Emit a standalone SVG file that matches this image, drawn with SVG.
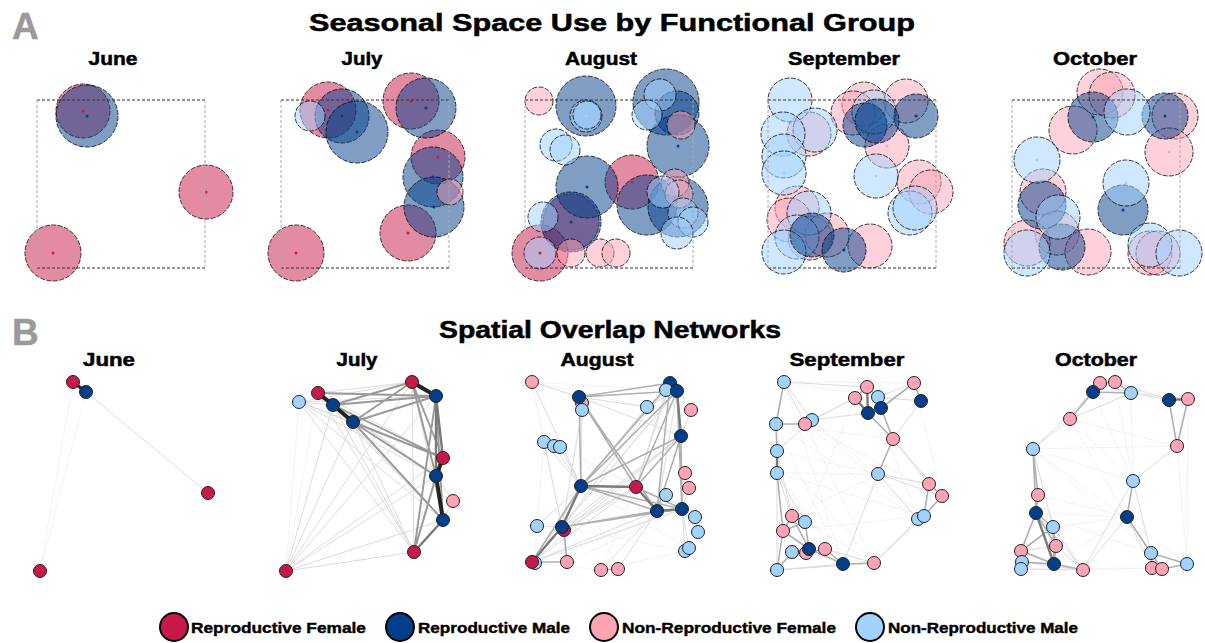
<svg xmlns="http://www.w3.org/2000/svg" width="1205" height="643" viewBox="0 0 1205 643">
<style>
text{font-family:"Liberation Sans",Arial,sans-serif;font-weight:bold;fill:#000;stroke:#000;stroke-width:.5}
.tag{font-size:37px;fill:#9a9a9a;stroke:#9a9a9a}
.ttl{font-size:23px;text-anchor:middle}
.mo{font-size:18px;text-anchor:middle}
.lg{font-size:15px;stroke-width:.4}
.rf{fill:#C9184A}.rm{fill:#023E8A}.nf{fill:#FFA3B5}.nm{fill:#A2D2FF}
.A circle.c{fill-opacity:.5;stroke:#000;stroke-opacity:.85;stroke-width:.9;stroke-dasharray:5 1.5}
.A circle.d{stroke:none}
.frame line{stroke-width:1;stroke-dasharray:3 2}
.fh{stroke:#333}.fv{stroke:#aaa}
.B circle{stroke:#222;stroke-width:1}
.e0{stroke:#f0f0f0;stroke-width:.8}
.e1{stroke:#dcdcdc;stroke-width:1}
.e2{stroke:#b0b0b0;stroke-width:1.6}
.e3{stroke:#7a7a7a;stroke-width:2.4}
.e4{stroke:#222;stroke-width:4}
.jl .e2{stroke:#999;stroke-width:1.9}
.leg circle{stroke:#000;stroke-width:2}
</style>

<text class="tag" x="12" y="39">A</text>
<text class="tag" x="12" y="345">B</text>
<text class="ttl" x="612" y="31" textLength="606" lengthAdjust="spacingAndGlyphs">Seasonal Space Use by Functional Group</text>
<text class="ttl" x="610" y="338" textLength="342" lengthAdjust="spacingAndGlyphs">Spatial Overlap Networks</text>

<!-- Panel A titles -->
<text class="mo" x="113" y="65" textLength="49" lengthAdjust="spacingAndGlyphs">June</text>
<text class="mo" x="362" y="65" textLength="41" lengthAdjust="spacingAndGlyphs">July</text>
<text class="mo" x="601" y="65" textLength="72" lengthAdjust="spacingAndGlyphs">August</text>
<text class="mo" x="844" y="65" textLength="112" lengthAdjust="spacingAndGlyphs">September</text>
<text class="mo" x="1095" y="65" textLength="84" lengthAdjust="spacingAndGlyphs">October</text>

<!-- Panel B titles -->
<text class="mo" x="109" y="366" textLength="52" lengthAdjust="spacingAndGlyphs">June</text>
<text class="mo" x="357" y="366" textLength="41" lengthAdjust="spacingAndGlyphs">July</text>
<text class="mo" x="597" y="366" textLength="73" lengthAdjust="spacingAndGlyphs">August</text>
<text class="mo" x="847" y="366" textLength="115" lengthAdjust="spacingAndGlyphs">September</text>
<text class="mo" x="1096" y="366" textLength="82" lengthAdjust="spacingAndGlyphs">October</text>

<!-- ===== Panel A: space use ===== -->
<g id="A-june" class="A">
<circle class="c rf" cx="83" cy="111" r="27"/>
<circle class="c rm" cx="87" cy="116" r="31"/>
<circle class="c rf" cx="206" cy="192" r="27"/>
<circle class="c rf" cx="53" cy="253" r="28"/>
<circle class="d rf" cx="83" cy="111" r="1.5"/><circle class="d rm" cx="87" cy="116" r="1.5"/>
<circle class="d rf" cx="206" cy="192" r="1.5"/><circle class="d rf" cx="53" cy="253" r="1.5"/>
</g>
<g id="A-july" class="A">
<circle class="c rf" cx="328" cy="110" r="28"/>
<circle class="c rf" cx="411" cy="101" r="28"/>
<circle class="c rf" cx="438" cy="157" r="27"/>
<circle class="c rf" cx="408" cy="233" r="28"/>
<circle class="c rf" cx="296" cy="253" r="28"/>
<circle class="c rm" cx="342" cy="116" r="27"/>
<circle class="c rm" cx="357" cy="132" r="31"/>
<circle class="c rm" cx="426" cy="108" r="30"/>
<circle class="c rm" cx="433" cy="177" r="30"/>
<circle class="c rm" cx="434" cy="207" r="30"/>
<circle class="c nf" cx="450" cy="192" r="13"/>
<circle class="c nm" cx="310" cy="116" r="15"/>
<circle class="d rf" cx="328" cy="110" r="1.5"/><circle class="d rf" cx="411" cy="101" r="1.5"/>
<circle class="d rf" cx="438" cy="157" r="1.5"/><circle class="d rf" cx="408" cy="233" r="1.5"/>
<circle class="d rf" cx="296" cy="253" r="1.5"/><circle class="d rm" cx="342" cy="116" r="1.5"/>
<circle class="d rm" cx="357" cy="132" r="1.5"/><circle class="d rm" cx="426" cy="108" r="1.5"/>
<circle class="d rm" cx="433" cy="177" r="1.5"/><circle class="d rm" cx="434" cy="207" r="1.5"/>
</g>
<g id="A-august" class="A">
<circle class="c rf" cx="632" cy="182" r="27"/>
<circle class="c rf" cx="571" cy="222" r="28"/>
<circle class="c rf" cx="540" cy="253" r="28"/>
<circle class="c rm" cx="586" cy="106" r="30"/>
<circle class="c rm" cx="666" cy="102" r="33"/>
<circle class="c rm" cx="677" cy="113" r="22"/>
<circle class="c rm" cx="678" cy="146" r="31"/>
<circle class="c rm" cx="587" cy="187" r="31"/>
<circle class="c rm" cx="647" cy="205" r="30"/>
<circle class="c rm" cx="678" cy="207" r="30"/>
<circle class="c rm" cx="571" cy="222" r="30"/>
<circle class="c nf" cx="539" cy="101" r="14"/>
<circle class="c nf" cx="681" cy="125" r="14"/>
<circle class="c nf" cx="675" cy="183" r="14"/>
<circle class="c nf" cx="679" cy="194" r="14"/>
<circle class="c nf" cx="571" cy="253" r="14"/>
<circle class="c nf" cx="600" cy="253" r="14"/>
<circle class="c nf" cx="616" cy="253" r="14"/>
<circle class="c nm" cx="586" cy="116" r="16"/>
<circle class="c nm" cx="587" cy="115" r="14"/>
<circle class="c nm" cx="660" cy="95" r="16"/>
<circle class="c nm" cx="647" cy="115" r="15"/>
<circle class="c nm" cx="556" cy="145" r="16"/>
<circle class="c nm" cx="565" cy="150" r="15"/>
<circle class="c nm" cx="663" cy="192" r="16"/>
<circle class="c nm" cx="683" cy="213" r="15"/>
<circle class="c nm" cx="693" cy="222" r="15"/>
<circle class="c nm" cx="677" cy="233" r="16"/>
<circle class="c nm" cx="543" cy="217" r="15"/>
<circle class="c nm" cx="540" cy="253" r="16"/>
<circle class="d rf" cx="632" cy="182" r="1.5"/><circle class="d rm" cx="587" cy="187" r="1.5"/>
<circle class="d rm" cx="678" cy="146" r="1.5"/><circle class="d rm" cx="571" cy="222" r="1.5"/>
<circle class="d rf" cx="540" cy="253" r="1.5"/><circle class="d nm" cx="586" cy="116" r="1.5"/>
</g>
<g id="A-september" class="A">
<circle class="c nf" cx="864" cy="104" r="22"/>
<circle class="c nf" cx="853" cy="113" r="22"/>
<circle class="c nf" cx="906" cy="101" r="22"/>
<circle class="c nf" cx="809" cy="134" r="22"/>
<circle class="c nf" cx="887" cy="146" r="22"/>
<circle class="c nf" cx="919" cy="182" r="22"/>
<circle class="c nf" cx="931" cy="192" r="22"/>
<circle class="c nf" cx="797" cy="208" r="22"/>
<circle class="c nf" cx="789" cy="220" r="22"/>
<circle class="c nf" cx="810" cy="238" r="22"/>
<circle class="c nf" cx="827" cy="235" r="22"/>
<circle class="c nf" cx="870" cy="246" r="22"/>
<circle class="c nm" cx="790" cy="100" r="22"/>
<circle class="c nm" cx="874" cy="112" r="22"/>
<circle class="c nm" cx="815" cy="130" r="22"/>
<circle class="c nm" cx="783" cy="134" r="22"/>
<circle class="c nm" cx="784" cy="156" r="22"/>
<circle class="c nm" cx="784" cy="173" r="22"/>
<circle class="c nm" cx="876" cy="176" r="22"/>
<circle class="c nm" cx="910" cy="213" r="22"/>
<circle class="c nm" cx="915" cy="208" r="22"/>
<circle class="c nm" cx="809" cy="213" r="22"/>
<circle class="c nm" cx="797" cy="237" r="22"/>
<circle class="c nm" cx="784" cy="252" r="22"/>
<circle class="c rm" cx="916" cy="116" r="22"/>
<circle class="c rm" cx="865" cy="125" r="22"/>
<circle class="c rm" cx="877" cy="121" r="22"/>
<circle class="c rm" cx="812" cy="235" r="22"/>
<circle class="c rm" cx="844" cy="250" r="22"/>
<circle class="d rm" cx="916" cy="116" r="1.5"/><circle class="d rm" cx="844" cy="250" r="1.5"/>
<circle class="d nf" cx="887" cy="146" r="1.5"/><circle class="d nm" cx="876" cy="176" r="1.5"/>
<circle class="d nm" cx="784" cy="173" r="1.5"/><circle class="d nm" cx="784" cy="156" r="1.5"/>
</g>
<g id="A-october" class="A">
<circle class="c nf" cx="1100" cy="92" r="23"/>
<circle class="c nf" cx="1112" cy="95" r="23"/>
<circle class="c nf" cx="1175" cy="116" r="23"/>
<circle class="c nf" cx="1073" cy="130" r="24"/>
<circle class="c nf" cx="1169" cy="152" r="24"/>
<circle class="c nf" cx="1043" cy="192" r="23"/>
<circle class="c nf" cx="1057" cy="233" r="22"/>
<circle class="c nf" cx="1027" cy="243" r="23"/>
<circle class="c nf" cx="1088" cy="252" r="23"/>
<circle class="c nf" cx="1150" cy="253" r="22"/>
<circle class="c nf" cx="1158" cy="253" r="22"/>
<circle class="c rm" cx="1093" cy="117" r="25"/>
<circle class="c rm" cx="1165" cy="116" r="23"/>
<circle class="c rm" cx="1042" cy="205" r="24"/>
<circle class="c rm" cx="1123" cy="210" r="25"/>
<circle class="c rm" cx="1062" cy="247" r="23"/>
<circle class="c nm" cx="1127" cy="112" r="23"/>
<circle class="c nm" cx="1037" cy="160" r="23"/>
<circle class="c nm" cx="1126" cy="183" r="23"/>
<circle class="c nm" cx="1058" cy="217" r="22"/>
<circle class="c nm" cx="1027" cy="253" r="23"/>
<circle class="c nm" cx="1150" cy="245" r="22"/>
<circle class="c nm" cx="1179" cy="253" r="23"/>
<circle class="d rm" cx="1165" cy="116" r="1.5"/><circle class="d rm" cx="1123" cy="210" r="1.5"/>
<circle class="d nf" cx="1169" cy="152" r="1.5"/><circle class="d nm" cx="1126" cy="183" r="1.5"/>
<circle class="d nm" cx="1037" cy="160" r="1.5"/><circle class="d rm" cx="1093" cy="117" r="1.5"/>
</g>

<g id="frames" class="frame">
<line class="fh" x1="37" y1="100" x2="205" y2="100"/><line class="fh" x1="37" y1="268" x2="205" y2="268"/>
<line class="fv" x1="37" y1="100" x2="37" y2="268"/><line class="fv" x1="205" y1="100" x2="205" y2="268"/>
<line class="fh" x1="281" y1="100" x2="449" y2="100"/><line class="fh" x1="281" y1="268" x2="449" y2="268"/>
<line class="fv" x1="281" y1="100" x2="281" y2="268"/><line class="fv" x1="449" y1="100" x2="449" y2="268"/>
<line class="fh" x1="525" y1="100" x2="693" y2="100"/><line class="fh" x1="525" y1="268" x2="693" y2="268"/>
<line class="fv" x1="525" y1="100" x2="525" y2="268"/><line class="fv" x1="693" y1="100" x2="693" y2="268"/>
<line class="fh" x1="768" y1="100" x2="936" y2="100"/><line class="fh" x1="768" y1="268" x2="936" y2="268"/>
<line class="fv" x1="768" y1="100" x2="768" y2="268"/><line class="fv" x1="936" y1="100" x2="936" y2="268"/>
<line class="fh" x1="1012" y1="100" x2="1180" y2="100"/><line class="fh" x1="1012" y1="268" x2="1180" y2="268"/>
<line class="fv" x1="1012" y1="100" x2="1012" y2="268"/><line class="fv" x1="1180" y1="100" x2="1180" y2="268"/>
</g>

<!-- ===== Panel B: connectors ===== -->
<g id="connectors" fill="none" stroke-linecap="round">
<!-- June -->
<g id="c-june">
<path class="e0" d="M73,382L40,571M86,392L40,571"/>
<path class="e1" d="M86,392L208,493"/>
<path class="e4" style="stroke-width:3" d="M73,382L86,392"/>
</g>
<!-- July -->
<g id="c-july" class="jl">
<path class="e0" d="M286,571L299,402M286,571L318,393M299,402L318,393"/>
<path class="e1" d="M299,402L412,382M299,402L436,396M318,393L412,382M286,571L333,405M286,571L353,422M286,571L412,382M286,571L436,396M286,571L443,458M286,571L436,476M286,571L443,520M286,571L414,552M299,402L333,405M299,402L353,422M299,402L443,458M299,402L436,476M299,402L443,520M299,402L414,552M318,393L443,458M318,393L436,476M318,393L443,520M318,393L414,552M333,405L436,476M333,405L443,520M333,405L414,552M353,422L414,552M412,382L443,520M412,382L414,552M443,458L414,552M453,501L436,476M453,501L443,520"/>
<path class="e2" d="M353,422L436,396M353,422L412,382M333,405L436,396M333,405L412,382M353,422L443,458M353,422L436,476M353,422L443,520M436,396L443,520M436,396L414,552M412,382L443,458M412,382L436,476M318,393L436,396M333,405L443,458M436,476L414,552"/>
<path class="e3" d="M443,520L414,552M436,396L436,476M436,396L443,458"/>
<path class="e4" d="M318,393L333,405L353,422M412,382L436,396M443,458L436,476L443,520"/>
</g>
<!-- August -->
<g id="c-august">
<path class="e0" d="M532,382L647,407M532,382L677,391M532,382L544,442M544,442L537,526M537,526L535,563M535,563L601,570M685,551L601,570M647,407L670,383M685,473L689,488M532,382L581,486M544,442L636,487M554,446L657,511M560,447L682,509M537,526L657,511M535,563L682,509M567,562L682,509M601,570L636,487M618,569L581,486M532,382L562,527M685,551L562,527M689,548L581,486M695,517L581,486M698,532L636,487"/>
<path class="e1" d="M532,382L579,397M579,397L647,407M579,397L681,436M647,407L677,391M670,383L636,487M677,391L657,511M647,407L581,486M666,390L581,486M666,390L636,487M691,410L681,436M685,473L682,509M689,488L682,509M666,495L657,511M666,495L682,509M695,517L682,509M698,532L682,509M544,442L581,486M554,446L581,486M560,447L581,486M537,526L562,527M537,526L581,486M564,530L636,487M562,527L636,487M535,563L581,486M532,562L636,487M532,562L657,511M532,562L682,509M685,551L682,509M689,548L682,509M567,562L562,527M601,570L657,511M618,569L657,511M582,410L581,486M582,410L562,527M544,442L562,527M562,527L681,436M562,527L677,391M532,562L681,436M562,527L670,383M564,530L681,436M532,562L677,391M532,382L581,486M579,397L582,410"/>
<path class="e2" d="M579,397L677,391M579,397L581,486M579,397L670,383M677,391L682,509M681,436L682,509M681,436L657,511M681,436L581,486M677,391L581,486M677,391L636,487M670,383L657,511M670,383L581,486M579,397L657,511M579,397L636,487M581,486L657,511M581,486L682,509M562,527L657,511M562,527L682,509M532,562L581,486M601,570L618,569M636,487L682,509M681,436L636,487M532,562L567,562M564,530L567,562"/>
<path class="e3" d="M562,527L532,562M581,486L562,527M581,486L636,487M636,487L657,511M657,511L682,509M677,391L681,436"/>
</g>
<!-- September -->
<g id="c-september">
<path class="e0" d="M776,424L918,519M777,451L878,474M777,473L878,474M784,382L914,383M812,420L878,474M805,424L874,563M777,473L843,564M792,516L878,474M805,522L874,563M777,570L874,563M792,552L874,563M784,382L878,397M776,424L893,439M777,473L924,516M777,451L874,563M812,420L918,519M805,424L924,516M783,531L924,516M776,424L843,564M784,382L843,564M805,424L942,496M867,387L918,519M855,398L805,522M914,383L942,496"/>
<path class="e1" d="M784,382L812,420M784,382L805,424M777,473L792,516M777,473L777,570M878,474L942,496M878,474L929,484M878,474L918,519M924,516L874,563M918,519L874,563M893,439L929,484M914,383L878,397M921,401L878,397M921,401L893,439M784,382L867,387M812,420L855,398M805,424L855,398M777,451L812,420M874,563L825,549M843,564L777,570M874,563L777,570M878,474L843,564M777,451L792,516M777,473L805,522M812,420L868,413M893,439L942,496"/>
<path class="e2" d="M784,382L776,424M776,424L805,424M776,424L777,451M805,424L812,420M878,397L881,408M867,387L855,398M867,387L878,397M914,383L921,401M881,408L893,439M868,413L893,439M893,439L878,474M929,484L942,496M942,496L924,516M918,519L924,516M929,484L924,516M809,549L843,564M843,564L874,563M783,531L809,549M792,516L783,531M792,516L809,549M805,522L809,549M792,552L809,549M809,549L806,553M806,553L825,549M825,549L843,564M777,570L792,552M777,570L783,531M783,531L805,522M792,516L805,522M777,473L783,531M914,383L881,408"/>
<path class="e3" d="M777,451L777,473M867,387L868,413M855,398L868,413"/>
</g>
<!-- October -->
<g id="c-october">
<path class="e0" d="M1070,419L1133,481M1033,449L1133,481M1038,495L1127,517M1036,513L1127,517M1053,527L1127,517M1054,564L1127,517M1021,569L1152,568M1083,570L1152,568M1093,392L1133,481M1070,419L1177,446M1033,449L1177,446M1115,382L1133,481M1131,393L1133,481M1188,399L1187,564M1177,446L1187,564M1038,495L1083,570M1021,551L1083,570M1033,449L1187,564M1070,419L1127,517M1033,449L1151,553M1036,513L1151,553"/>
<path class="e1" d="M1070,419L1033,449M1131,393L1169,400M1177,446L1133,481M1127,517L1083,570M1133,481L1083,570M1033,449L1053,527M1115,382L1169,400M1131,393L1188,399M1070,419L1131,393M1036,513L1083,570M1053,527L1083,570M1056,546L1083,570M1022,562L1083,570M1021,569L1083,570M1127,517L1152,568M1133,481L1151,553M1093,392L1033,449M1100,383L1131,393M1056,546L1021,551"/>
<path class="e2" d="M1093,392L1070,419M1100,383L1093,392M1100,383L1115,382M1115,382L1131,393M1093,392L1131,393M1033,449L1038,495M1038,495L1036,513M1036,513L1053,527M1036,513L1021,551M1053,527L1056,546M1056,546L1054,564M1021,551L1022,562M1022,562L1021,569M1021,551L1054,564M1022,562L1054,564M1133,481L1127,517M1127,517L1151,553M1151,553L1152,568M1151,553L1162,569M1162,569L1187,564M1151,553L1187,564M1169,400L1177,446M1188,399L1177,446M1036,513L1056,546M1053,527L1054,564M1033,449L1036,513M1021,551L1053,527M1083,570L1054,564"/>
<path class="e3" d="M1169,400L1188,399M1152,568L1162,569M1036,513L1054,564"/>
</g>
</g>

<!-- ===== Panel B: nodes ===== -->
<g id="B-june" class="B">
<circle id="jun1" class="rf" cx="73" cy="382" r="6.5"/>
<circle id="jun2" class="rm" cx="86" cy="392" r="6.5"/>
<circle id="jun3" class="rf" cx="208" cy="493" r="6.5"/>
<circle id="jun4" class="rf" cx="40" cy="571" r="6.5"/>
</g>
<g id="B-july" class="B">
<circle class="nm" cx="299" cy="402" r="6.5"/>
<circle class="rf" cx="318" cy="393" r="6.5"/>
<circle class="rm" cx="333" cy="405" r="6.5"/>
<circle class="rm" cx="353" cy="422" r="6.5"/>
<circle class="rf" cx="412" cy="382" r="6.5"/>
<circle class="rm" cx="436" cy="396" r="6.5"/>
<circle class="rf" cx="443" cy="458" r="6.5"/>
<circle class="rm" cx="436" cy="476" r="6.5"/>
<circle class="nf" cx="453" cy="501" r="6.5"/>
<circle class="rm" cx="443" cy="520" r="6.5"/>
<circle class="rf" cx="414" cy="552" r="6.5"/>
<circle class="rf" cx="286" cy="571" r="6.5"/>
</g>
<g id="B-august" class="B">
<circle class="nf" cx="532" cy="382" r="6.5"/>
<circle class="nf" cx="582" cy="403" r="6.5"/>
<circle class="rm" cx="579" cy="397" r="6.5"/>
<circle class="nm" cx="582" cy="410" r="6.5"/>
<circle class="nm" cx="647" cy="407" r="6.5"/>
<circle class="rm" cx="670" cy="383" r="6.5"/>
<circle class="nm" cx="666" cy="390" r="6.5"/>
<circle class="rm" cx="677" cy="391" r="6.5"/>
<circle class="nf" cx="691" cy="410" r="6.5"/>
<circle class="rm" cx="681" cy="436" r="6.5"/>
<circle class="nm" cx="544" cy="442" r="6.5"/>
<circle class="nm" cx="554" cy="446" r="6.5"/>
<circle class="nm" cx="560" cy="447" r="6.5"/>
<circle class="nf" cx="685" cy="473" r="6.5"/>
<circle class="nf" cx="689" cy="488" r="6.5"/>
<circle class="nm" cx="666" cy="495" r="6.5"/>
<circle class="rm" cx="581" cy="486" r="6.5"/>
<circle class="rf" cx="636" cy="487" r="6.5"/>
<circle class="rm" cx="657" cy="511" r="6.5"/>
<circle class="rm" cx="682" cy="509" r="6.5"/>
<circle class="nm" cx="695" cy="517" r="6.5"/>
<circle class="nm" cx="698" cy="532" r="6.5"/>
<circle class="nm" cx="537" cy="526" r="6.5"/>
<circle class="rf" cx="564" cy="530" r="6.5"/>
<circle class="rm" cx="562" cy="527" r="6.5"/>
<circle class="nm" cx="685" cy="551" r="6.5"/>
<circle class="nm" cx="689" cy="548" r="6.5"/>
<circle class="nm" cx="535" cy="563" r="6.5"/>
<circle class="rf" cx="532" cy="562" r="6.5"/>
<circle class="nf" cx="567" cy="562" r="6.5"/>
<circle class="nf" cx="601" cy="570" r="6.5"/>
<circle class="nf" cx="618" cy="569" r="6.5"/>
</g>
<g id="B-september" class="B">
<circle class="nm" cx="784" cy="382" r="6.5"/>
<circle class="nf" cx="867" cy="387" r="6.5"/>
<circle class="nf" cx="855" cy="398" r="6.5"/>
<circle class="nm" cx="878" cy="397" r="6.5"/>
<circle class="nf" cx="914" cy="383" r="6.5"/>
<circle class="rm" cx="921" cy="401" r="6.5"/>
<circle class="rm" cx="868" cy="413" r="6.5"/>
<circle class="rm" cx="881" cy="408" r="6.5"/>
<circle class="nm" cx="812" cy="420" r="6.5"/>
<circle class="nf" cx="805" cy="424" r="6.5"/>
<circle class="nm" cx="776" cy="424" r="6.5"/>
<circle class="nf" cx="893" cy="439" r="6.5"/>
<circle class="nm" cx="777" cy="451" r="6.5"/>
<circle class="nm" cx="777" cy="473" r="6.5"/>
<circle class="nm" cx="878" cy="474" r="6.5"/>
<circle class="nf" cx="929" cy="484" r="6.5"/>
<circle class="nf" cx="942" cy="496" r="6.5"/>
<circle class="nm" cx="918" cy="519" r="6.5"/>
<circle class="nm" cx="924" cy="516" r="6.5"/>
<circle class="nf" cx="792" cy="516" r="6.5"/>
<circle class="nm" cx="805" cy="522" r="6.5"/>
<circle class="nf" cx="783" cy="531" r="6.5"/>
<circle class="nm" cx="792" cy="552" r="6.5"/>
<circle class="nf" cx="806" cy="553" r="6.5"/>
<circle class="rm" cx="809" cy="549" r="6.5"/>
<circle class="nf" cx="825" cy="549" r="6.5"/>
<circle class="rm" cx="843" cy="564" r="6.5"/>
<circle class="nf" cx="874" cy="563" r="6.5"/>
<circle class="nm" cx="777" cy="570" r="6.5"/>
</g>
<g id="B-october" class="B">
<circle class="nf" cx="1100" cy="383" r="6.5"/>
<circle class="nf" cx="1115" cy="382" r="6.5"/>
<circle class="rm" cx="1093" cy="392" r="6.5"/>
<circle class="nm" cx="1131" cy="393" r="6.5"/>
<circle class="rm" cx="1169" cy="400" r="6.5"/>
<circle class="nf" cx="1188" cy="399" r="6.5"/>
<circle class="nf" cx="1070" cy="419" r="6.5"/>
<circle class="nf" cx="1177" cy="446" r="6.5"/>
<circle class="nm" cx="1033" cy="449" r="6.5"/>
<circle class="nm" cx="1133" cy="481" r="6.5"/>
<circle class="nf" cx="1038" cy="495" r="6.5"/>
<circle class="rm" cx="1036" cy="513" r="6.5"/>
<circle class="rm" cx="1127" cy="517" r="6.5"/>
<circle class="nm" cx="1053" cy="527" r="6.5"/>
<circle class="nf" cx="1056" cy="546" r="6.5"/>
<circle class="nf" cx="1021" cy="551" r="6.5"/>
<circle class="nm" cx="1151" cy="553" r="6.5"/>
<circle class="nm" cx="1022" cy="562" r="6.5"/>
<circle class="rm" cx="1054" cy="564" r="6.5"/>
<circle class="nm" cx="1021" cy="569" r="6.5"/>
<circle class="nf" cx="1083" cy="570" r="6.5"/>
<circle class="nf" cx="1152" cy="568" r="6.5"/>
<circle class="nf" cx="1162" cy="569" r="6.5"/>
<circle class="nm" cx="1187" cy="564" r="6.5"/>
</g>

<!-- ===== Legend ===== -->
<g id="legend" class="leg">
<circle class="rf" cx="174" cy="627" r="14"/>
<text class="lg" x="191" y="633" textLength="175" lengthAdjust="spacingAndGlyphs">Reproductive Female</text>
<circle class="rm" cx="400" cy="627" r="14"/>
<text class="lg" x="418" y="633" textLength="152" lengthAdjust="spacingAndGlyphs">Reproductive Male</text>
<circle class="nf" cx="604" cy="627" r="14"/>
<text class="lg" x="622" y="633" textLength="214" lengthAdjust="spacingAndGlyphs">Non-Reproductive Female</text>
<circle class="nm" cx="870" cy="627" r="14"/>
<text class="lg" x="888" y="633" textLength="190" lengthAdjust="spacingAndGlyphs">Non-Reproductive Male</text>
</g>
</svg>
